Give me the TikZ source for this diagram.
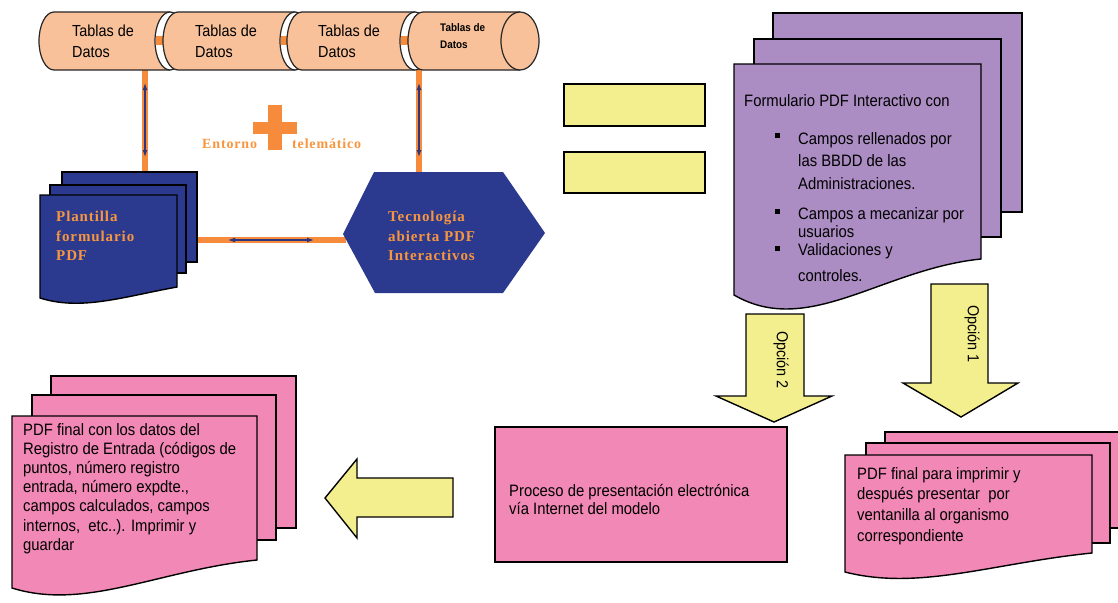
\documentclass[tikz,border=0pt]{standalone}
\usepackage{fontspec}
\setmainfont{Liberation Sans}
\newfontfamily\nsans[FakeStretch=0.9]{Liberation Sans}
\newfontfamily\oserif[LetterSpace=6]{Liberation Serif}
\usetikzlibrary{arrows.meta}
\definecolor{cylfill}{HTML}{F8C199}
\definecolor{obar}{HTML}{F58B3B}
\definecolor{otext}{HTML}{F7963F}
\definecolor{navyfill}{HTML}{2B3A8E}
\definecolor{navyline}{HTML}{2D3580}
\definecolor{yelfill}{HTML}{F4EF8E}
\definecolor{purfill}{HTML}{AB8CC3}
\definecolor{pinkfill}{HTML}{F188B6}
\newcommand\cylshape[3]{%
  \fill[cylfill] ({#1},12) .. controls ({#1-8.3},12) and ({#1-15},25) .. ({#1-15},41) .. controls ({#1-15},57) and ({#1-8.3},70) .. ({#1},70) -- ({#2},70) -- ({#2},12) -- cycle;
  \draw[cylline] ({#2},12) -- ({#1},12) .. controls ({#1-8.3},12) and ({#1-15},25) .. ({#1-15},41) .. controls ({#1-15},57) and ({#1-8.3},70) .. ({#1},70) -- ({#2},70);
  \filldraw[cylline,fill=#3] ({#2},41) ellipse [x radius=15, y radius=29];}
\newcommand\docsheet[7]{%
  \filldraw[#1] ({#2},{#3}) -- ({#4},{#3}) -- ({#4},{#6}) .. controls ({#2+0.6*(#4-#2)},{#6+10}) and ({#2+0.3*(#4-#2)},{#5+#7}) .. ({#2},{#5}) -- cycle;}
\begin{document}
\begin{tikzpicture}[x=1pt,y=-1pt,
  cylline/.style={draw=black!85,line width=1.2pt},
  sheetline/.style={draw=black,line width=1.4pt,line join=miter},
  navysheet/.style={sheetline,fill=navyfill},
  pursheet/.style={sheetline,fill=purfill},
  pinksheet/.style={sheetline,fill=pinkfill},
  yelshape/.style={draw=black,line width=1.4pt,fill=yelfill,line join=miter},
  orangebar/.style={draw=obar,line width=6pt},
  navyarrow/.style={draw=navyline,line width=1.2pt,{Latex[length=7pt,width=5pt]}-{Latex[length=7pt,width=5pt]}},
  sanstext/.style={inner sep=0pt,anchor=north west,align=left,text=black},
  serftext/.style={inner sep=0pt,anchor=north west,align=left,text=otext,font=\oserif\bfseries\fontsize{15}{19.5}\selectfont},
]
\useasboundingbox (0,0) rectangle (1118,602);
\fill[white] (0,0) rectangle (1118,602);

% ---------- connectors (orange bars) ----------
\coordinate (c1bot) at (145,70);
\coordinate (c4bot) at (419,70);
\coordinate (plTop) at (145,172);
\coordinate (hxTop) at (419,172);
\coordinate (plRight) at (186,240);
\coordinate (hxLeft) at (346,240);
\draw[orangebar] (c1bot) -- (plTop);
\draw[orangebar] (c4bot) -- (hxTop);
\draw[orangebar] (plRight) -- (hxLeft);
\coordinate (a1s) at (145,83); \coordinate (a1e) at (145,157);
\coordinate (a2s) at (419,83); \coordinate (a2e) at (419,157);
\coordinate (a3s) at (228,240); \coordinate (a3e) at (314,240);
\draw[navyarrow] (a1s) -- (a1e);
\draw[navyarrow] (a2s) -- (a2e);
\draw[navyarrow] (a3s) -- (a3e);

% ---------- cylinders ----------
\cylshape{54}{170}{white}
\fill[obar] (156,36) rectangle (172,45);
\cylshape{178}{295}{white}
\fill[obar] (281,36) rectangle (297,45);
\cylshape{302}{415}{white}
\fill[obar] (401,36) rectangle (417,45);
\fill[cylfill] (423,12) .. controls (414.7,12) and (408,25) .. (408,41) .. controls (408,57) and (414.7,70) .. (423,70) -- (520,70) -- (520,12) -- cycle;
\draw[cylline] (520,12) -- (423,12) .. controls (414.7,12) and (408,25) .. (408,41) .. controls (408,57) and (414.7,70) .. (423,70) -- (520,70);
\filldraw[cylline,fill=cylfill] (520,41) ellipse [x radius=19, y radius=29];
\node[sanstext,font=\nsans\fontsize{16}{21}\selectfont] (t1) at (72,25) {Tablas de\\Datos};
\node[sanstext,font=\nsans\fontsize{16}{21}\selectfont] (t2) at (195,25) {Tablas de\\Datos};
\node[sanstext,font=\nsans\fontsize{16}{21}\selectfont] (t3) at (318,25) {Tablas de\\Datos};
\node[sanstext,font=\nsans\bfseries\fontsize{11}{17}\selectfont] (t4) at (440,23) {Tablas de\\Datos};

% ---------- plus / entorno ----------
\fill[obar] (253,122) rectangle (297,134);
\fill[obar] (268,105) rectangle (282,150);
\node[serftext,font=\oserif\bfseries\fontsize{14}{18}\selectfont] (ent) at (202,139) {Entorno};
\node[serftext,font=\oserif\bfseries\fontsize{14}{18}\selectfont] (tel) at (292,139) {telemático};

% ---------- blue stack ----------
\filldraw[navysheet] (62,172) rectangle (197,262);
\filldraw[navysheet] (50,185) rectangle (186,273);
\docsheet{navysheet}{40}{195}{177}{298}{287}{13}
\node[serftext] (plant) at (56,211) {Plantilla\\formulario\\PDF};

% ---------- hexagon ----------
\fill[navyfill] (343,234) -- (374,172) -- (503,172) -- (545,233) -- (503,293) -- (375,293) -- cycle;
\node[serftext] (tecno) at (388,211) {Tecnología\\abierta PDF\\Interactivos};

% ---------- equals ----------
\filldraw[yelshape] (564,84) rectangle (705,126);
\filldraw[yelshape] (564,152) rectangle (705,193);

% ---------- purple stack ----------
\filldraw[pursheet] (773,13) rectangle (1022,212);
\filldraw[pursheet] (754,39) rectangle (1001,237);
\docsheet{pursheet}{734}{64}{981}{295}{259}{43}
\node[sanstext,font=\nsans\fontsize{16.5}{22}\selectfont] (formtit) at (744,94) {Formulario PDF Interactivo con};
\fill[black] (774.5,132.5) rectangle (779.5,137.5);
\fill[black] (774.5,208.5) rectangle (779.5,213.5);
\fill[black] (774.5,245.5) rectangle (779.5,250.5);
\node[sanstext,font=\nsans\fontsize{16.5}{22.5}\selectfont] (it1) at (798,132) {Campos rellenados por\\las BBDD de las\\Administraciones.};
\node[sanstext,font=\nsans\fontsize{16.5}{18}\selectfont] (it2) at (798,207) {Campos a mecanizar por\\usuarios};
\node[sanstext,font=\nsans\fontsize{16.5}{26}\selectfont] (it3) at (798,243) {Validaciones y\\controles.};

% ---------- option arrows ----------
\filldraw[yelshape] (746,314) -- (804,314) -- (804,396) -- (832,396) -- (774,422) -- (716,396) -- (746,396) -- cycle;
\node[inner sep=0pt,rotate=-90,font=\nsans\fontsize{16}{18}\selectfont] (op2) at (781,360) {Opción 2};
\filldraw[yelshape] (931,284) -- (988,284) -- (988,383) -- (1018,383) -- (961,417) -- (903,383) -- (931,383) -- cycle;
\node[inner sep=0pt,rotate=-90,font=\nsans\fontsize{16}{18}\selectfont] (op1) at (972,334) {Opción 1};

% ---------- proceso ----------
\filldraw[pinksheet] (495,427) rectangle (787,562);
\node[sanstext,font=\nsans\fontsize{16.5}{18}\selectfont] (proc) at (509,484) {Proceso de presentación electrónica\\vía Internet del modelo};

% ---------- left arrow ----------
\filldraw[yelshape] (453,478) -- (453,517) -- (357,517) -- (357,538) -- (325,498) -- (357,459) -- (357,478) -- cycle;

% ---------- pink left stack ----------
\filldraw[pinksheet] (51,376) rectangle (296,528);
\filldraw[pinksheet] (32,395) rectangle (276,540);
\docsheet{pinksheet}{12}{416}{257}{588}{560}{23}
\node[sanstext,font=\nsans\fontsize{16.5}{19.2}\selectfont] (pfin) at (23,423) {PDF final con los datos del\\Registro de Entrada (códigos de\\puntos, número registro\\entrada, número expdte.,\\campos calculados, campos\\internos,\ \ etc..). Imprimir y\\guardar};

% ---------- pink right stack ----------
\filldraw[pinksheet] (885,432) rectangle (1125,528);
\filldraw[pinksheet] (866,443) rectangle (1110,543);
\docsheet{pinksheet}{845}{455}{1092}{572}{553}{19}
\node[sanstext,font=\nsans\fontsize{16.5}{20.7}\selectfont] (pimp) at (857,467) {PDF final para imprimir y\\después presentar\ \ por\\ventanilla al organismo\\correspondiente};
\end{tikzpicture}
\end{document}
